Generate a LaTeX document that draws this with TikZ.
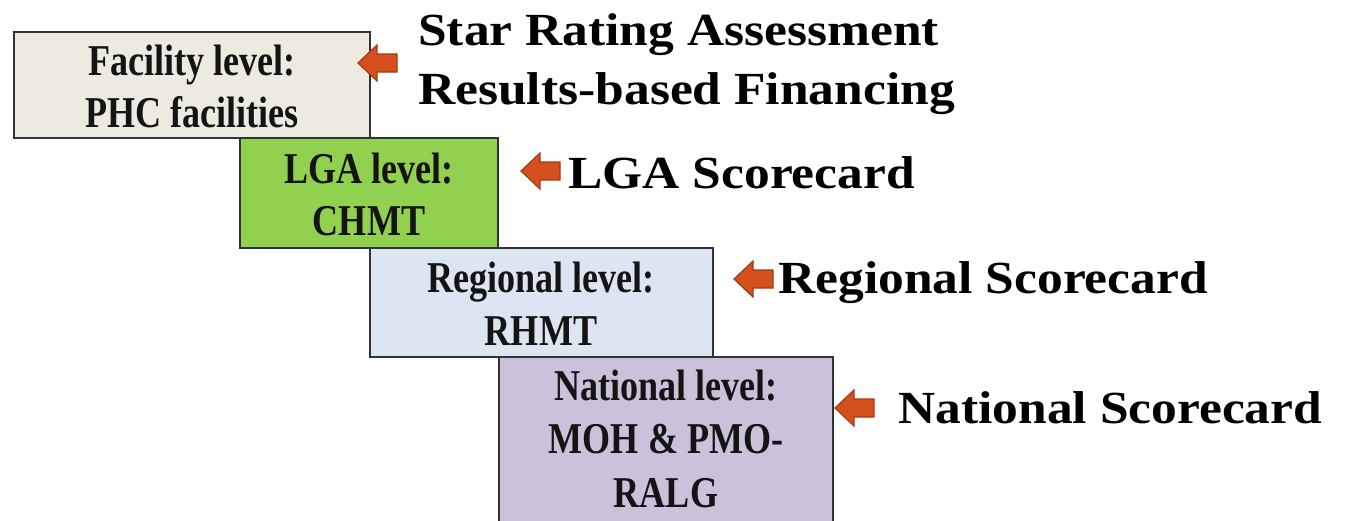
\documentclass[tikz,border=0pt]{standalone}
\usepackage{fontspec}
\setmainfont{Liberation Serif}
\newcommand{\widetext}[1]{\scalebox{1.12}[1]{#1}}
\newcommand{\narrowtext}[1]{\scalebox{0.82}[1]{#1}}
\begin{document}
\begin{tikzpicture}[x=1pt,y=-1pt,
  levelbox/.style={draw=black!80, line width=1.5pt, anchor=north west, inner sep=0pt},
  boxtext/.style={anchor=base, font=\bfseries\fontsize{44}{50}\selectfont, inner sep=0pt, text=black!92},
  lbl/.style={anchor=base west, inner sep=0pt, font=\bfseries\fontsize{46}{50}\selectfont},
  blockarrow/.style={fill=arrowfill, draw=arrowdraw, line width=1.2pt, line join=miter}]
\definecolor{arrowfill}{HTML}{D5501E}
\definecolor{arrowdraw}{HTML}{A33A12}
\definecolor{boxA}{HTML}{EDEBE0}
\definecolor{boxB}{HTML}{92D050}
\definecolor{boxC}{HTML}{DCE6F2}
\definecolor{boxD}{HTML}{CCC1DA}
\useasboundingbox (0,0) rectangle (1360,520);
\clip (0,0) rectangle (1360,520);
\fill[white] (0,0) rectangle (1360,520);
% boxes
\draw[levelbox, fill=boxA] (14,32) rectangle (370,138);
\draw[levelbox, fill=boxB] (240,138) rectangle (498,248);
\draw[levelbox, fill=boxC] (370,248) rectangle (713,357);
\draw[levelbox, fill=boxD] (499,357) rectangle (833,540);
\node[boxtext] (fac1) at (192,75) {\narrowtext{Facility level:}};
\node[boxtext] (fac2) at (192,127) {\narrowtext{PHC facilities}};
\node[boxtext] (lga1) at (369,183) {\narrowtext{LGA level:}};
\node[boxtext] (lga2) at (369,235) {\narrowtext{CHMT}};
\node[boxtext] (reg1) at (541,292) {\narrowtext{Regional level:}};
\node[boxtext] (reg2) at (541,345) {\narrowtext{RHMT}};
\node[boxtext] (nat1) at (666,400) {\narrowtext{National level:}};
\node[boxtext] (nat2) at (666,453) {\narrowtext{MOH \& PMO-}};
\node[boxtext] (nat3) at (666,507) {\narrowtext{RALG}};
% arrows
\foreach \n/\tx/\ty in {a1/358/63, a2/521/171, a3/734/279, a4/835/408}{
  \coordinate (\n) at (\tx,\ty);
  \draw[blockarrow] (\n) -- ++(19,-18) -- ++(0,9) -- ++(20,0) -- ++(0,18) -- ++(-20,0) -- ++(0,9) -- cycle;
}
% labels
\node[lbl] (l1) at (418,45) {\widetext{Star Rating Assessment}};
\node[lbl] (l2) at (418,104) {\widetext{Results-based Financing}};
\node[lbl] (l3) at (568,188) {\widetext{LGA Scorecard}};
\node[lbl] (l4) at (778,293) {\widetext{Regional Scorecard}};
\node[lbl] (l5) at (898,423) {\widetext{National Scorecard}};
\end{tikzpicture}
\end{document}
